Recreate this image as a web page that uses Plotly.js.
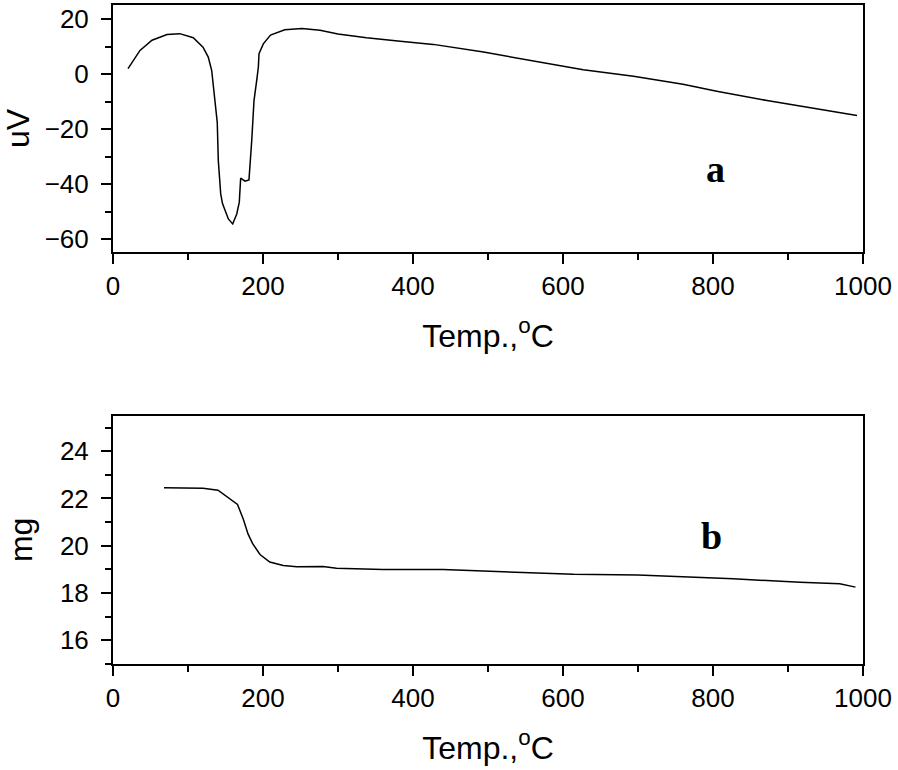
<!DOCTYPE html>
<html>
<head>
<meta charset="utf-8">
<script src="https://cdn.plot.ly/plotly-3.0.1.min.js"></script>
<style>html,body{margin:0;padding:0;background:#fff;}#chart{width:898px;height:770px;}</style>
</head>
<body>
<div id="chart"></div>
<script>
// DTA curve (a)
const dtaTemp = [20,36,52,72,89,107,120,127,131.6,134,136,139,140.4,143.6,146,153.8,159.6,165,168.4,170.2,176,181.3,185,188,191.6,193.8,194.7,200.4,210,229,252,276,300,338,383,427,494,560,627,694,760,805,872,938,992];
const dtaSignal = [2,8.6,12.3,14.4,14.7,13.2,9.8,6.2,1.3,-4.7,-9.6,-17.5,-31.4,-43.5,-47,-52.6,-54.4,-50.8,-46.5,-37.8,-38.9,-38.4,-24,-9.6,-2.3,2.5,7.4,11,14.2,16.1,16.6,15.9,14.6,13.2,11.9,10.8,8.0,4.7,1.6,-0.8,-3.7,-6.2,-9.6,-12.6,-15.0];
// TG curve (b)
const tgTemp = [68,100,120,140,166,174,180,186,196,209,227,245,280,298,360,440,516,583,614,700,738,827,916,969,990];
const tgMass = [22.45,22.45,22.43,22.35,21.75,21.1,20.5,20.1,19.63,19.31,19.17,19.11,19.12,19.05,19.0,19.0,18.9,18.83,18.79,18.76,18.72,18.6,18.46,18.39,18.25];
// axis settings
const xTickStep = 200, xMinorStep = 100;
const yTopTickStep = 20, yTopMinorStep = 10;
const yBotTickStep = 2, yBotMinorStep = 1;
const xTitle = 'Temp.,<sup>o</sup>C';
const yTopTitle = 'uV';
const yBotTitle = 'mg';
const panelLabels = ['a', 'b'];

const FONT = 'Arial, "Liberation Sans", sans-serif';
const tickFont = {family: FONT, size: 26, color: '#000'};
const titleFont = {family: FONT, size: 32, color: '#000'};

function xAx(anchor) {
  return {
    anchor: anchor, domain: [0, 1], range: [0, 1000],
    tick0: 0, dtick: xTickStep, ticks: 'outside', ticklen: 10, tickwidth: 2, tickcolor: '#000',
    minor: {dtick: xMinorStep, ticks: 'outside', ticklen: 6, tickwidth: 2, tickcolor: '#000', showgrid: false},
    showline: true, linewidth: 2, linecolor: '#000', mirror: true,
    showgrid: false, zeroline: false, tickfont: tickFont, ticklabelstandoff: 0,
    title: {text: xTitle, font: titleFont, standoff: 24}
  };
}
function yAx(anchor, domain, range, step, minor, title) {
  return {
    anchor: anchor, domain: domain, range: range,
    tick0: 0, dtick: step, ticks: 'outside', ticklen: 10, tickwidth: 2, tickcolor: '#000',
    minor: {dtick: minor, ticks: 'outside', ticklen: 6, tickwidth: 2, tickcolor: '#000', showgrid: false},
    showline: true, linewidth: 2, linecolor: '#000', mirror: true,
    showgrid: false, zeroline: false, tickfont: tickFont, ticklabelstandoff: 7,
    title: {text: title, font: titleFont, standoff: 18}
  };
}

const traces = [
  {x: dtaTemp, y: dtaSignal, type: 'scatter', mode: 'lines', line: {color: '#000', width: 1.5}, xaxis: 'x', yaxis: 'y', hoverinfo: 'skip'},
  {x: tgTemp, y: tgMass, type: 'scatter', mode: 'lines', line: {color: '#000', width: 1.5}, xaxis: 'x2', yaxis: 'y2', hoverinfo: 'skip'}
];

const layout = {
  width: 898, height: 770,
  margin: {l: 113, r: 35, t: 5, b: 106},
  paper_bgcolor: '#fff', plot_bgcolor: '#fff',
  showlegend: false,
  xaxis: xAx('y'),
  yaxis: yAx('x', [0.6252, 1], [-64.6, 25.1], yTopTickStep, yTopMinorStep, yTopTitle),
  xaxis2: xAx('y2'),
  yaxis2: yAx('x2', [0, 0.3768], [15, 25.5], yBotTickStep, yBotMinorStep, yBotTitle),
  annotations: [
    {text: '<b>' + panelLabels[0] + '</b>', x: 803, y: -34.6, xref: 'x', yref: 'y', showarrow: false,
     font: {family: '"Liberation Serif", "Times New Roman", serif', size: 38, color: '#000'}, xanchor: 'center', yanchor: 'middle'},
    {text: '<b>' + panelLabels[1] + '</b>', x: 798, y: 20.4, xref: 'x2', yref: 'y2', showarrow: false,
     font: {family: '"Liberation Serif", "Times New Roman", serif', size: 38, color: '#000'}, xanchor: 'center', yanchor: 'middle'}
  ]
};

Plotly.newPlot('chart', traces, layout, {displayModeBar: false, staticPlot: true});
</script>
</body>
</html>
